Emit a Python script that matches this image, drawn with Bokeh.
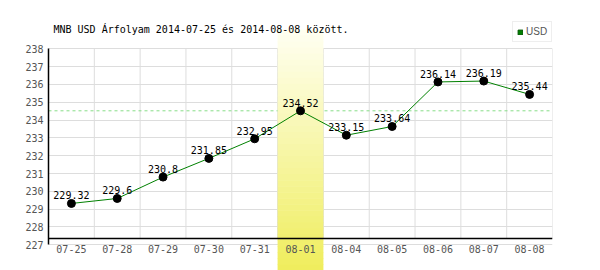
from bokeh.plotting import figure
from bokeh.models import (Range1d, FixedTicker, Span, BoxAnnotation, Legend, LegendItem,
                          ColumnDataSource, Label)
from bokeh.core.properties import value
from bokeh.embed import file_html
from bokeh.resources import INLINE

# ---- data ----
dates = ["07-25", "07-28", "07-29", "07-30", "07-31", "08-01",
         "08-04", "08-05", "08-06", "08-07", "08-08"]
usd = [229.32, 229.6, 230.8, 231.85, 232.95, 234.52,
       233.15, 233.64, 236.14, 236.19, 235.44]
y_ticks = list(range(227, 239))
highlight = "08-01"
series_name = "USD"
title_text = "MNB USD Árfolyam 2014-07-25 és 2014-08-08 között."

# ---- style / layout constants (pixels) ----
W, H = 600, 270
LEFT, RIGHT = 48, 48
TOP_TICK_PX, BOTTOM_TICK_PX = 48.3, 244.3   # screen rows of first/last y tick
BASE_PX = 238.3                              # screen row of the dark base line
MONO = "DejaVu Sans Mono"
GRID = "#dddddd"
TICK_COLOR = "#555555"

ppu = (BOTTOM_TICK_PX - TOP_TICK_PX) / (y_ticks[-1] - y_ticks[0])
y_start = y_ticks[0] - (H - BOTTOM_TICK_PX) / ppu
y_end = y_ticks[-1] + TOP_TICK_PX / ppu
base_y = y_ticks[0] + (BOTTOM_TICK_PX - BASE_PX) / ppu

xs = list(range(len(dates)))
labels = [f"{v:g}" for v in usd]
src = ColumnDataSource(dict(x=xs, y=usd, label=labels))

p = figure(width=W, height=H, output_backend="svg", toolbar_location=None,
           x_range=Range1d(-0.5, len(dates) - 0.5),
           y_range=Range1d(y_start, y_end),
           min_border_left=LEFT, min_border_right=RIGHT, min_border_top=0, min_border_bottom=0)
p.outline_line_color = None
p.background_fill_color = "white"
p.border_fill_color = "white"

# x axis, drawn as the dark base line
p.xaxis.fixed_location = base_y
p.xaxis.ticker = FixedTicker(ticks=xs)
p.xaxis.major_label_overrides = {i: d for i, d in zip(xs, dates)}
p.xaxis.axis_line_color = "black"
p.xaxis.axis_line_width = 1.5
p.xaxis.major_tick_line_color = None
p.xaxis.major_tick_out = 0
p.xaxis.major_tick_in = 0
p.xaxis.minor_tick_line_color = None
p.xaxis.major_label_standoff = 6
p.xaxis.major_label_text_font = MONO
p.xaxis.major_label_text_font_size = "10px"
p.xaxis.major_label_text_color = TICK_COLOR

# y axis
p.yaxis.bounds = (y_ticks[0], y_ticks[-1])
p.yaxis.ticker = FixedTicker(ticks=y_ticks)
p.yaxis.axis_line_color = "black"
p.yaxis.axis_line_width = 1.5
p.yaxis.major_tick_line_color = None
p.yaxis.major_tick_out = 0
p.yaxis.major_tick_in = 0
p.yaxis.minor_tick_line_color = None
p.yaxis.major_label_standoff = 5
p.yaxis.major_label_text_font = MONO
p.yaxis.major_label_text_font_size = "10px"
p.yaxis.major_label_text_color = TICK_COLOR

# grids
p.xgrid.visible = False
p.ygrid.ticker = FixedTicker(ticks=y_ticks)
p.ygrid.grid_line_color = GRID

hl = dates.index(highlight)

# dashed reference line at highlighted value
p.add_layout(Span(location=usd[hl], dimension="width", line_color="#88dd88",
                  line_dash="3 3", line_width=1, level="underlay"))

# gradient highlight band (stacked strips)
band_top, band_bottom, n_strips = 29, H, 40
c0, c1 = (255, 255, 242), (239, 237, 92)
step = (band_bottom - band_top) / n_strips
for i in range(n_strips):
    t = (i + 0.5) / n_strips
    col = "#%02x%02x%02x" % tuple(round(a + (b - a) * t) for a, b in zip(c0, c1))
    p.add_layout(BoxAnnotation(left=hl - 0.5, right=hl + 0.5,
                               top=band_top + i * step, bottom=band_top + (i + 1) * step + 0.6,
                               top_units="canvas", bottom_units="canvas",
                               fill_color=col, fill_alpha=1, line_color=None,
                               level="underlay"))

# vertical grid lines at category boundaries, from base line to top tick
bounds_x = [x + 0.5 for x in xs]
p.segment(x0=bounds_x, x1=bounds_x, y0=[base_y] * len(bounds_x),
          y1=[y_ticks[-1]] * len(bounds_x), line_color=GRID, line_width=1, level="underlay")

# legend swatch: zero-area quads on the series points (invisible, hidden under
# the markers); only their legend square is seen
sw = p.quad(left="x", right="x", top="y", bottom="y", source=src,
            fill_color="#008000", line_color="#005500", line_width=1, level="underlay")

# data
p.line("x", "y", source=src, line_color="#008000", line_width=1)
p.scatter("x", "y", source=src, size=8, fill_color="black", line_color="black")
p.text("x", "y", text="label", source=src, text_font=value(MONO), text_font_size="10px",
       text_color="black", text_align="center", text_baseline="alphabetic",
       y_offset=-8)

# title
p.add_layout(Label(x=53, y=29, x_units="canvas", y_units="canvas", text=title_text,
                   text_font=MONO, text_font_size="10px", text_color="black",
                   text_baseline="alphabetic", text_align="left"))

legend = Legend(items=[LegendItem(label=series_name, renderers=[sw])],
                location=(512 - LEFT, H - 42), orientation="vertical",
                border_line_color="#dddddd", border_line_width=1,
                background_fill_color="white", background_fill_alpha=1,
                padding=4, margin=0, spacing=0,
                glyph_width=6, glyph_height=6, label_height=9, label_standoff=3,
                label_text_font="Liberation Sans", label_text_font_size="10px",
                label_text_color=TICK_COLOR, label_text_baseline="middle")
p.add_layout(legend, "center")

open("out.html", "w").write(file_html(p, INLINE))
